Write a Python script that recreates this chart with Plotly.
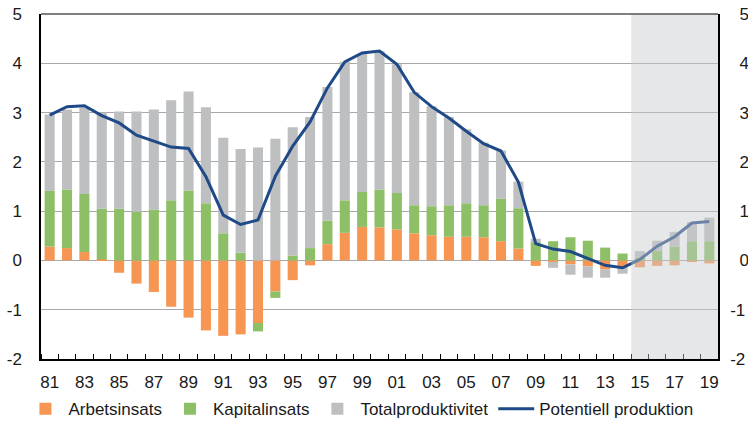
import plotly.graph_objects as go

years = list(range(1981, 2020))
arbetsinsats = [0.28, 0.25, 0.17, 0.02, -0.25, -0.47, -0.64, -0.94, -1.16, -1.42,
                -1.53, -1.50, -1.27, -0.63, -0.40, -0.10, 0.33, 0.56, 0.68, 0.67,
                0.63, 0.55, 0.51, 0.48, 0.48, 0.47, 0.39, 0.24, -0.11, -0.03,
                -0.08, -0.12, -0.18, -0.15, -0.14, -0.11, -0.10, -0.02, -0.06]
kapitalinsats = [1.13, 1.19, 1.18, 1.03, 1.05, 0.99, 1.03, 1.22, 1.42, 1.16,
                 0.55, 0.16, -0.17, -0.13, 0.10, 0.25, 0.48, 0.66, 0.71, 0.77,
                 0.74, 0.57, 0.59, 0.64, 0.68, 0.65, 0.86, 0.82, 0.37, 0.39,
                 0.47, 0.40, 0.26, 0.14, 0.06, 0.19, 0.28, 0.39, 0.39]
totalproduktivitet = [1.55, 1.62, 1.75, 1.95, 1.97, 2.03, 2.03, 2.03, 2.01, 1.95,
                      1.94, 2.10, 2.29, 2.47, 2.60, 2.66, 2.71, 2.81, 2.80, 2.81,
                      2.61, 2.29, 2.03, 1.79, 1.50, 1.27, 0.98, 0.54, 0.07, -0.12,
                      -0.21, -0.23, -0.17, -0.12, 0.13, 0.21, 0.30, 0.39, 0.48]
potentiell = [2.95, 3.12, 3.14, 2.94, 2.79, 2.54, 2.42, 2.30, 2.27, 1.70,
              0.92, 0.73, 0.82, 1.71, 2.32, 2.81, 3.50, 4.03, 4.21, 4.25,
              3.98, 3.41, 3.12, 2.89, 2.62, 2.37, 2.22, 1.59, 0.34, 0.23,
              0.18, 0.04, -0.10, -0.15, 0.02, 0.29, 0.48, 0.76, 0.79]
tick_years = list(range(1981, 2020, 2))
tick_labels = [f"{y % 100:02d}" for y in tick_years]
y_ticks = [-2, -1, 0, 1, 2, 3, 4, 5]
y_labels_left = [str(v) for v in y_ticks]
y_labels_right = [str(v) if v < 0 else "\u2007" + str(v) for v in y_ticks]
forecast_start = 2014.5

FONT = "Liberation Sans, Arial, sans-serif"
fig = go.Figure()
fig.add_trace(go.Bar(x=years, y=arbetsinsats, name="Arbetsinsats",
                     marker=dict(color="#F79552", line=dict(width=0))))
fig.add_trace(go.Bar(x=years, y=kapitalinsats, name="Kapitalinsats",
                     marker=dict(color="#8DBF67", line=dict(width=0))))
fig.add_trace(go.Bar(x=years, y=totalproduktivitet, name="Totalproduktivitet",
                     marker=dict(color="#BEBFC1", line=dict(width=0))))
fig.add_trace(go.Scatter(x=years, y=potentiell, name="Potentiell produktion",
                         mode="lines", line=dict(color="#1F4A87", width=3)))
fig.add_trace(go.Scatter(x=[years[0]], y=[0], yaxis="y2", showlegend=False,
                         mode="markers", marker=dict(opacity=0), hoverinfo="skip"))

fig.add_shape(type="rect", xref="x", yref="paper", x0=forecast_start, x1=2019.5,
              y0=0, y1=1, fillcolor="rgba(200,202,207,0.45)", line=dict(width=0),
              layer="above")

fig.update_layout(
    width=748, height=424,
    margin=dict(l=41, r=30, t=14, b=65, autoexpand=False),
    barmode="relative", bargap=0.42,
    plot_bgcolor="white", paper_bgcolor="white",
    font=dict(family=FONT, size=17, color="#1a1a1a"),
    legend=dict(orientation="h", xref="container", x=0.03, xanchor="left",
                yref="container", y=0.035, yanchor="middle",
                font=dict(size=17), itemwidth=36, traceorder="normal"),
    xaxis=dict(range=[1980.5, 2019.5], tickvals=tick_years, ticktext=tick_labels,
               ticks="", ticklabelstandoff=7, showgrid=False, showline=True,
               linecolor="black", linewidth=1.5, zeroline=False, automargin=False,
               minor=dict(ticks="inside", tick0=1980.5, dtick=1, ticklen=5,
                          tickcolor="black", showgrid=False)),
    yaxis=dict(range=[-2, 5], tickvals=y_ticks, ticktext=y_labels_left,
               showgrid=True, gridcolor="#A8A8A8", automargin=False,
               gridwidth=1, zeroline=False, showline=True, linecolor="black",
               linewidth=1.5, ticks="", ticklabelstandoff=14),
    yaxis2=dict(range=[-2, 5], tickvals=y_ticks, ticktext=y_labels_right,
                overlaying="y", side="right", automargin=False,
                showgrid=False, zeroline=False, showline=True, linecolor="black",
                linewidth=1.5, ticks="", ticklabelstandoff=7),
)
fig.add_shape(type="line", xref="paper", yref="paper", x0=0, x1=1, y0=1, y1=1,
              line=dict(color="#555555", width=1.5))

fig.write_html("out.html", config={"displayModeBar": False},
               post_script="document.body.style.margin='0';document.body.style.padding='0';")
